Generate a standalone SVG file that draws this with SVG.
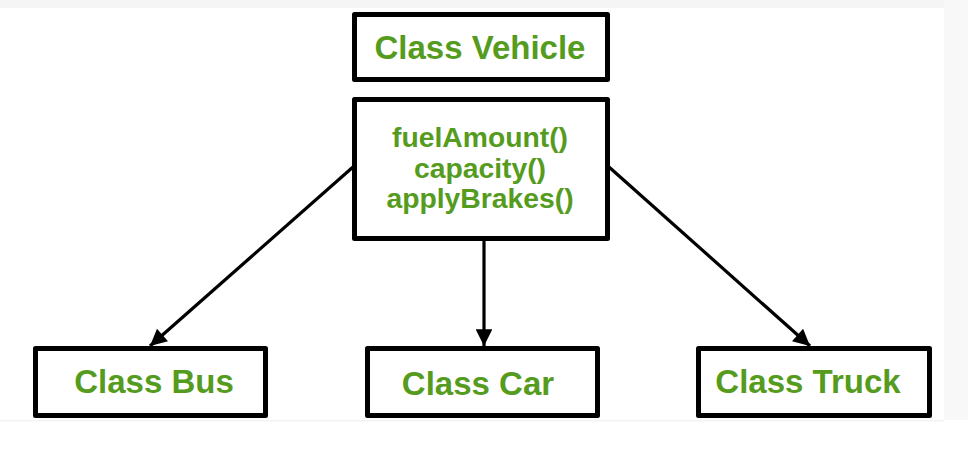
<svg xmlns="http://www.w3.org/2000/svg" width="968" height="455" viewBox="0 0 968 455">
<style>
.box{fill:#ffffff;stroke:#000000;stroke-width:5;stroke-linejoin:round}
.lbl{font-family:"Liberation Sans",Arial,sans-serif;font-weight:bold;fill:#559c1e;text-anchor:middle}
.big{font-size:33px}
.mid{font-size:28.3px}
.conn{stroke:#000000;stroke-width:3.2;fill:none}
</style>
<defs>
<marker id="arr" viewBox="0 0 10 10" refX="10" refY="5" markerWidth="7.2" markerHeight="5.2" markerUnits="strokeWidth" orient="auto">
<path d="M0,0 L10,5 L0,10 z" fill="#000000"/>
</marker>
</defs>
<rect x="0" y="0" width="968" height="455" fill="#ffffff"/>
<rect x="0" y="0" width="968" height="8" fill="#f5f5f5"/>
<rect x="944" y="0" width="24" height="420" fill="#f8f8f8"/>
<rect x="0" y="420" width="944" height="1.5" fill="#f3f3f3"/>
<g id="connectors">
<line class="conn" x1="353" y1="167" x2="150" y2="346" marker-end="url(#arr)"/>
<line class="conn" x1="484" y1="241" x2="484" y2="346" marker-end="url(#arr)"/>
<line class="conn" x1="609" y1="167" x2="810" y2="346" marker-end="url(#arr)"/>
</g>
<g id="vehicle">
<rect class="box" x="354.5" y="14.5" width="253" height="65"/>
<text class="lbl big" x="480" y="59">Class Vehicle</text>
</g>
<g id="methods">
<rect class="box" x="354.5" y="99.5" width="253" height="139"/>
<text class="lbl mid" x="480" y="147">fuelAmount()</text>
<text class="lbl mid" x="480" y="178">capacity()</text>
<text class="lbl mid" x="480" y="208">applyBrakes()</text>
</g>
<g id="bus">
<rect class="box" x="35.5" y="348.5" width="230" height="67"/>
<text class="lbl big" x="154" y="393">Class Bus</text>
</g>
<g id="car">
<rect class="box" x="367.5" y="348.5" width="230" height="67"/>
<text class="lbl big" x="478" y="395">Class Car</text>
</g>
<g id="truck">
<rect class="box" x="698.5" y="348.5" width="231" height="67"/>
<text class="lbl big" x="808" y="393">Class Truck</text>
</g>
</svg>
